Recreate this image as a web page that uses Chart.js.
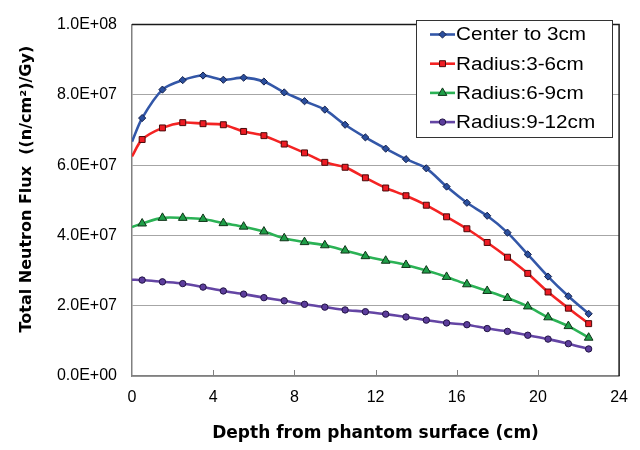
<!DOCTYPE html>
<html>
<head>
<meta charset="utf-8">
<script src="https://cdn.jsdelivr.net/npm/chart.js@4.4.1/dist/chart.umd.min.js"></script>
<style>
  html, body { margin: 0; padding: 0; background: #fff; }
  #wrap { width: 640px; height: 450px; }
</style>
</head>
<body>
<div id="wrap"><canvas id="chart" width="640" height="450"></canvas></div>
<script>
// depth from phantom surface (cm); first point at 0 is only the start of the line
const depth = [0, 0.5, 1.5, 2.5, 3.5, 4.5, 5.5, 6.5, 7.5, 8.5, 9.5, 10.5, 11.5,
  12.5, 13.5, 14.5, 15.5, 16.5, 17.5, 18.5, 19.5, 20.5, 21.5, 22.5];

const center = [6.67e7, 7.34e7, 8.15e7, 8.42e7, 8.55e7, 8.43e7, 8.49e7, 8.38e7, 8.07e7, 7.82e7,
  7.58e7, 7.15e7, 6.79e7, 6.47e7, 6.17e7, 5.91e7, 5.39e7, 4.93e7, 4.56e7, 4.08e7,
  3.46e7, 2.83e7, 2.27e7, 1.77e7];
const r3to6 = [6.25e7, 6.73e7, 7.06e7, 7.21e7, 7.18e7, 7.15e7, 6.96e7, 6.84e7, 6.60e7, 6.35e7,
  6.08e7, 5.94e7, 5.64e7, 5.35e7, 5.13e7, 4.86e7, 4.53e7, 4.19e7, 3.80e7, 3.38e7,
  2.92e7, 2.39e7, 1.93e7, 1.49e7];
const r6to9 = [4.24e7, 4.34e7, 4.50e7, 4.50e7, 4.47e7, 4.35e7, 4.25e7, 4.11e7, 3.92e7, 3.81e7,
  3.72e7, 3.57e7, 3.41e7, 3.28e7, 3.16e7, 3.00e7, 2.82e7, 2.61e7, 2.42e7, 2.22e7,
  1.98e7, 1.67e7, 1.42e7, 1.09e7];
const r9to12 = [2.74e7, 2.73e7, 2.68e7, 2.63e7, 2.53e7, 2.42e7, 2.33e7, 2.23e7, 2.14e7, 2.04e7,
  1.96e7, 1.88e7, 1.83e7, 1.76e7, 1.68e7, 1.59e7, 1.51e7, 1.46e7, 1.35e7, 1.27e7,
  1.16e7, 1.05e7, 0.92e7, 0.77e7];

const seriesNames = ["Center to 3cm", "Radius:3-6cm", "Radius:6-9cm", "Radius:9-12cm"];
const xTicks = [0, 4, 8, 12, 16, 20, 24];

const styles = [
  { line: "#3357a8", fill: "#2b4f9e", edge: "#14204a", shape: "rectRot", r: 3.6 },
  { line: "#f42323", fill: "#ee1c24", edge: "#4a0a0a", shape: "rect", r: 4.2 },
  { line: "#2bb255", fill: "#1f9e48", edge: "#0f3318", shape: "triangle", r: 5 },
  { line: "#6445a4", fill: "#5c3d9c", edge: "#221444", shape: "circle", r: 3.2 }
];

function toPoints(vals) {
  return depth.map((d, i) => ({ x: d, y: vals[i] }));
}

function sciLabel(v) {
  if (v === 0) return "0.0E+00";
  const e = Math.floor(Math.log10(v) + 1e-9);
  const m = v / Math.pow(10, e);
  return m.toFixed(1) + "E+" + String(e).padStart(2, "0");
}

const datasets = [center, r3to6, r6to9, r9to12].map((vals, k) => ({
  label: seriesNames[k],
  data: toPoints(vals),
  showLine: true,
  borderColor: styles[k].line,
  borderWidth: 2.6,
  tension: 0.3,
  pointStyle: styles[k].shape,
  pointRadius: c => c.dataIndex === 0 ? 0 : styles[k].r,
  pointBackgroundColor: styles[k].fill,
  pointBorderColor: styles[k].edge,
  pointBorderWidth: 1
}));

// border of the plot, inner tick marks on x, and the boxed legend
const framePlugin = {
  id: "frame",
  afterDraw(chart) {
    const { ctx, chartArea: a, scales } = chart;
    ctx.save();
    ctx.strokeStyle = "#808080";
    ctx.lineWidth = 1;
    xTicks.forEach(t => {
      if (t === 0 || t === 24) return;
      const px = Math.round(scales.x.getPixelForValue(t)) + 0.5;
      ctx.beginPath();
      ctx.moveTo(px, a.bottom);
      ctx.lineTo(px, a.bottom - 6);
      ctx.stroke();
    });
    ctx.strokeStyle = "#1a1a1a";
    ctx.lineWidth = 1.5;
    ctx.beginPath();
    ctx.moveTo(a.left, a.top);
    ctx.lineTo(a.right, a.top);
    ctx.lineTo(a.right, a.bottom);
    ctx.stroke();

    // legend
    const lx = 416, ly = 20, lw = 196, lh = 117;
    ctx.fillStyle = "#fff";
    ctx.fillRect(lx, ly, lw, lh);
    ctx.strokeStyle = "#333";
    ctx.lineWidth = 1;
    ctx.strokeRect(lx + 0.5, ly + 0.5, lw, lh);
    ctx.font = "18px 'Liberation Sans', Arial, sans-serif";
    ctx.textBaseline = "middle";
    ctx.textAlign = "left";
    seriesNames.forEach((name, k) => {
      const y = 34.5 + k * 29.2;
      ctx.strokeStyle = styles[k].line;
      ctx.lineWidth = 2.6;
      ctx.beginPath();
      ctx.moveTo(430, y);
      ctx.lineTo(455, y);
      ctx.stroke();
      ctx.fillStyle = styles[k].fill;
      ctx.strokeStyle = styles[k].edge;
      ctx.lineWidth = 1;
      Chart.helpers.drawPoint(ctx, { pointStyle: styles[k].shape, radius: styles[k].r, borderWidth: 1, rotation: 0 }, 442.5, y);
      ctx.fillStyle = "#000";
      ctx.save();
      ctx.translate(456, y + 1);
      ctx.scale(1.15, 1);
      ctx.fillText(name, 0, 0);
      ctx.restore();
    });
    ctx.restore();
  }
};

new Chart(document.getElementById("chart"), {
  type: "scatter",
  data: { datasets },
  plugins: [framePlugin],
  options: {
    responsive: false,
    animation: false,
    layout: { padding: { top: 12, right: 20, left: 0, bottom: 0 } },
    plugins: {
      legend: { display: false },
      tooltip: { enabled: false }
    },
    scales: {
      x: {
        type: "linear",
        min: 0,
        max: 24,
        afterBuildTicks: s => { s.ticks = xTicks.map(v => ({ value: v })); },
        afterFit: s => { s.height = 74; },
        grid: { display: false, drawTicks: false },
        border: { color: "#808080", width: 1.5 },
        ticks: {
          color: "#000",
          padding: 12,
          maxRotation: 0,
          font: { family: "'Liberation Sans', Arial, sans-serif", size: 16 }
        },
        title: {
          display: true,
          text: "Depth from phantom surface (cm)",
          color: "#000",
          padding: { top: 0, bottom: 6 },
          font: { family: "'DejaVu Sans', sans-serif", size: 17, weight: "bold" }
        }
      },
      y: {
        min: 0,
        max: 1e8,
        afterFit: s => { s.width = 132; },
        grid: { color: "#a6a6a6", lineWidth: 1, drawTicks: false },
        border: { color: "#808080", width: 1.5 },
        ticks: {
          stepSize: 2e7,
          color: "#000",
          padding: 15,
          callback: v => sciLabel(v),
          font: { family: "'Liberation Sans', Arial, sans-serif", size: 16 }
        },
        title: {
          display: true,
          text: "    Total Neutron Flux  ((n/cm²)/Gy)",
          color: "#000",
          padding: { top: 17, bottom: 0 },
          font: { family: "'DejaVu Sans', sans-serif", size: 16, weight: "bold" }
        }
      }
    }
  }
});
</script>
</body>
</html>
